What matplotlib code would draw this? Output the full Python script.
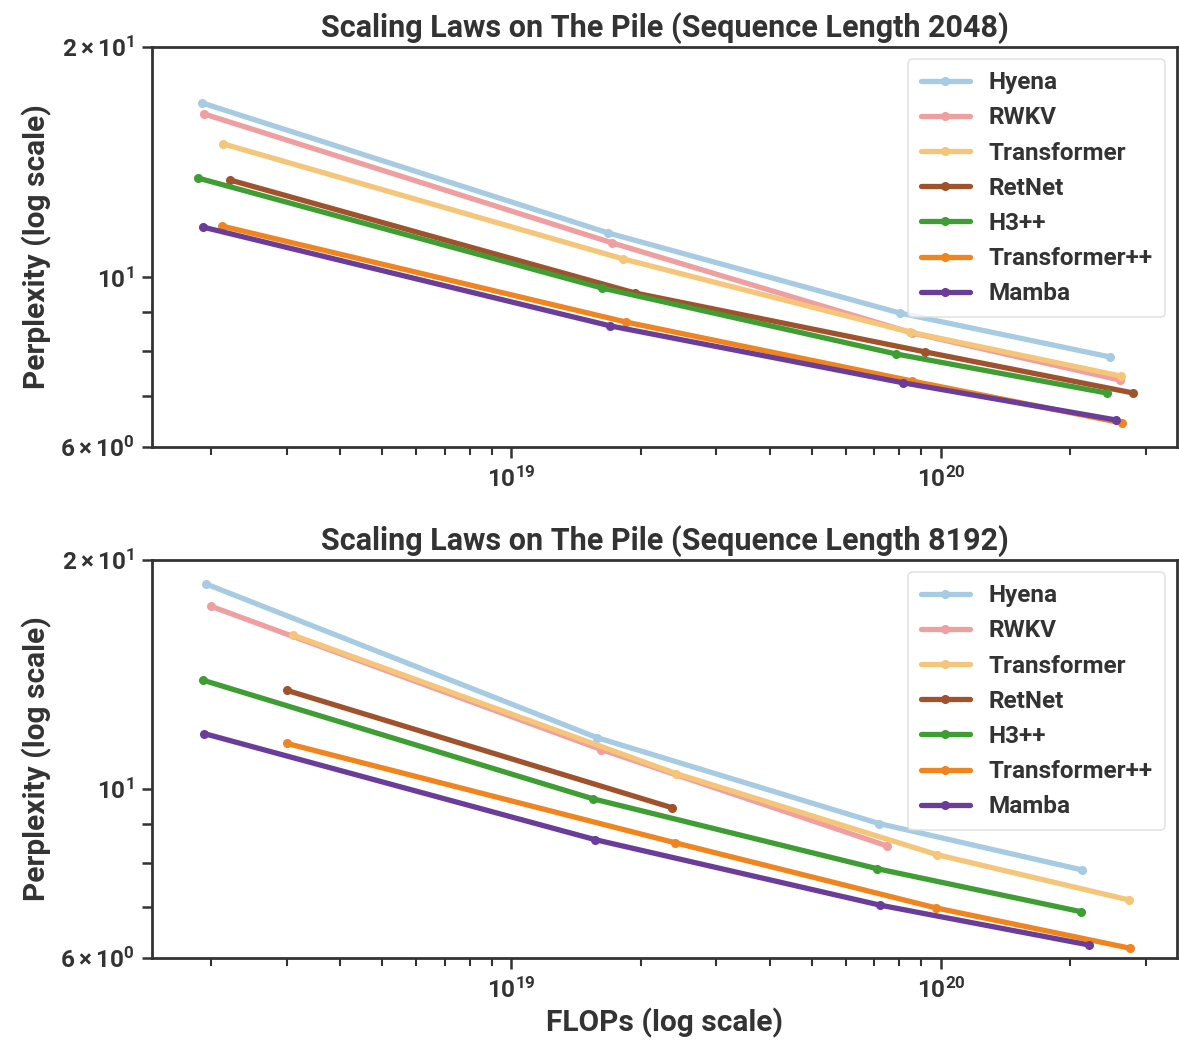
import numpy as np
import matplotlib
matplotlib.use("Agg")
import matplotlib.pyplot as plt

# ====================================================================
# Data (FLOPs, perplexity)
# ====================================================================

MODELS = ["Hyena", "RWKV", "Transformer", "RetNet", "H3++", "Transformer++", "Mamba"]
COLORS = ["#a6cbe3", "#ef9fa0", "#f5c57a", "#a0522d", "#3f9e33", "#f0841f", "#6a3d9a"]

# Sequence length 2048
flops_2048 = {
    "Hyena":         [1.91e18, 1.68e19, 8.03e19, 2.47e20],
    "RWKV":          [1.93e18, 1.72e19, 8.56e19, 2.61e20],
    "Transformer":   [2.14e18, 1.82e19, 8.47e19, 2.62e20],
    "RetNet":        [2.22e18, 1.94e19, 9.18e19, 2.80e20],
    "H3++":          [1.87e18, 1.63e19, 7.86e19, 2.43e20],
    "Transformer++": [2.12e18, 1.85e19, 8.56e19, 2.64e20],
    "Mamba":         [1.92e18, 1.70e19, 8.16e19, 2.55e20],
}
ppl_2048 = {
    "Hyena":         [16.90, 11.43, 8.98, 7.87],
    "RWKV":          [16.35, 11.09, 8.46, 7.34],
    "Transformer":   [14.94, 10.57, 8.48, 7.43],
    "RetNet":        [13.40, 9.54, 7.99, 7.06],
    "H3++":          [13.48, 9.68, 7.94, 7.06],
    "Transformer++": [11.67, 8.74, 7.32, 6.45],
    "Mamba":         [11.63, 8.64, 7.28, 6.51],
}

# Sequence length 8192
flops_8192 = {
    "Hyena":         [1.95e18, 1.58e19, 7.18e19, 2.13e20],
    "RWKV":          [2.00e18, 1.62e19, 7.49e19],
    "Transformer":   [3.11e18, 2.42e19, 9.79e19, 2.74e20],
    "RetNet":        [3.01e18, 2.37e19],
    "H3++":          [1.92e18, 1.55e19, 7.10e19, 2.12e20],
    "Transformer++": [3.01e18, 2.41e19, 9.74e19, 2.75e20],
    "Mamba":         [1.93e18, 1.57e19, 7.21e19, 2.21e20],
}
ppl_8192 = {
    "Hyena":         [18.60, 11.69, 9.01, 7.83],
    "RWKV":          [17.39, 11.27, 8.42],
    "Transformer":   [15.93, 10.48, 8.20, 7.15],
    "RetNet":        [13.48, 9.45],
    "H3++":          [13.90, 9.71, 7.86, 6.90],
    "Transformer++": [11.48, 8.50, 6.98, 6.18],
    "Mamba":         [11.83, 8.58, 7.04, 6.24],
}

Y_TICKS = [6, 7, 8, 9, 10, 20]
Y_TICK_LABELS = [r"$\mathdefault{6\times10^{0}}$", "", "", "", r"$\mathdefault{10^{1}}$",
                 r"$\mathdefault{2\times10^{1}}$"]

# ====================================================================
# Style
# ====================================================================
DARK = "#333333"
plt.rcParams["font.family"] = ["Roboto", "DejaVu Sans"]
plt.rcParams["font.weight"] = "bold"
plt.rcParams["mathtext.fontset"] = "custom"
plt.rcParams["mathtext.rm"] = "Roboto:bold"
plt.rcParams["mathtext.it"] = "Roboto:bold"
plt.rcParams["mathtext.bf"] = "Roboto:bold"
plt.rcParams["text.color"] = DARK
plt.rcParams["axes.labelcolor"] = DARK
plt.rcParams["xtick.color"] = DARK
plt.rcParams["ytick.color"] = DARK

fig = plt.figure(figsize=(11.79, 10.45), dpi=100)
ax_top = fig.add_axes([0.129, 0.5722, 0.8693, 0.3828])
ax_bot = fig.add_axes([0.129, 0.0833, 0.8693, 0.3808])


def draw_panel(ax, flops, ppl, seq_len):
    for name, color in zip(MODELS, COLORS):
        ax.plot(flops[name], ppl[name], color=color, lw=3.8, marker="o",
                markersize=5.5, label=name, solid_capstyle="round")
    ax.set_xscale("log")
    ax.set_yscale("log")
    ax.set_xlim(1.46e18, 3.54e20)
    ax.set_ylim(6, 20)
    ax.set_yticks(Y_TICKS)
    ax.set_yticklabels(Y_TICK_LABELS)
    ax.yaxis.set_minor_locator(matplotlib.ticker.NullLocator())
    ax.set_xticks([1e19, 1e20])
    ax.set_xticklabels([r"$\mathdefault{10^{19}}$", r"$\mathdefault{10^{20}}$"])
    ax.xaxis.set_minor_locator(matplotlib.ticker.LogLocator(base=10, subs=np.arange(2, 10)))
    ax.xaxis.set_minor_formatter(matplotlib.ticker.NullFormatter())
    ax.tick_params(axis="both", which="major", labelsize=17.5, length=8, width=1.8, pad=6)
    ax.tick_params(axis="x", which="minor", length=6, width=1.5)
    ax.tick_params(axis="y", which="major", length=7)
    for sp in ax.spines.values():
        sp.set_linewidth(2)
        sp.set_color(DARK)
    ax.set_title(f"Scaling Laws on The Pile (Sequence Length {seq_len})",
                 fontsize=22, fontweight="bold", pad=7)
    ax.set_ylabel("Perplexity (log scale)", fontsize=21.5, fontweight="bold", labelpad=6)
    leg = ax.legend(loc="upper right", fontsize=17.5, frameon=True, handlelength=2.05,
                    labelspacing=0.5, borderpad=0.5, handletextpad=0.75, fancybox=True)
    leg.get_frame().set_edgecolor("#dddddd")
    leg.get_frame().set_linewidth(1.2)


draw_panel(ax_top, flops_2048, ppl_2048, 2048)
draw_panel(ax_bot, flops_8192, ppl_8192, 8192)
ax_bot.set_xlabel("FLOPs (log scale)", fontsize=21.5, fontweight="bold", labelpad=4)

fig.savefig("out.png", dpi=100)
